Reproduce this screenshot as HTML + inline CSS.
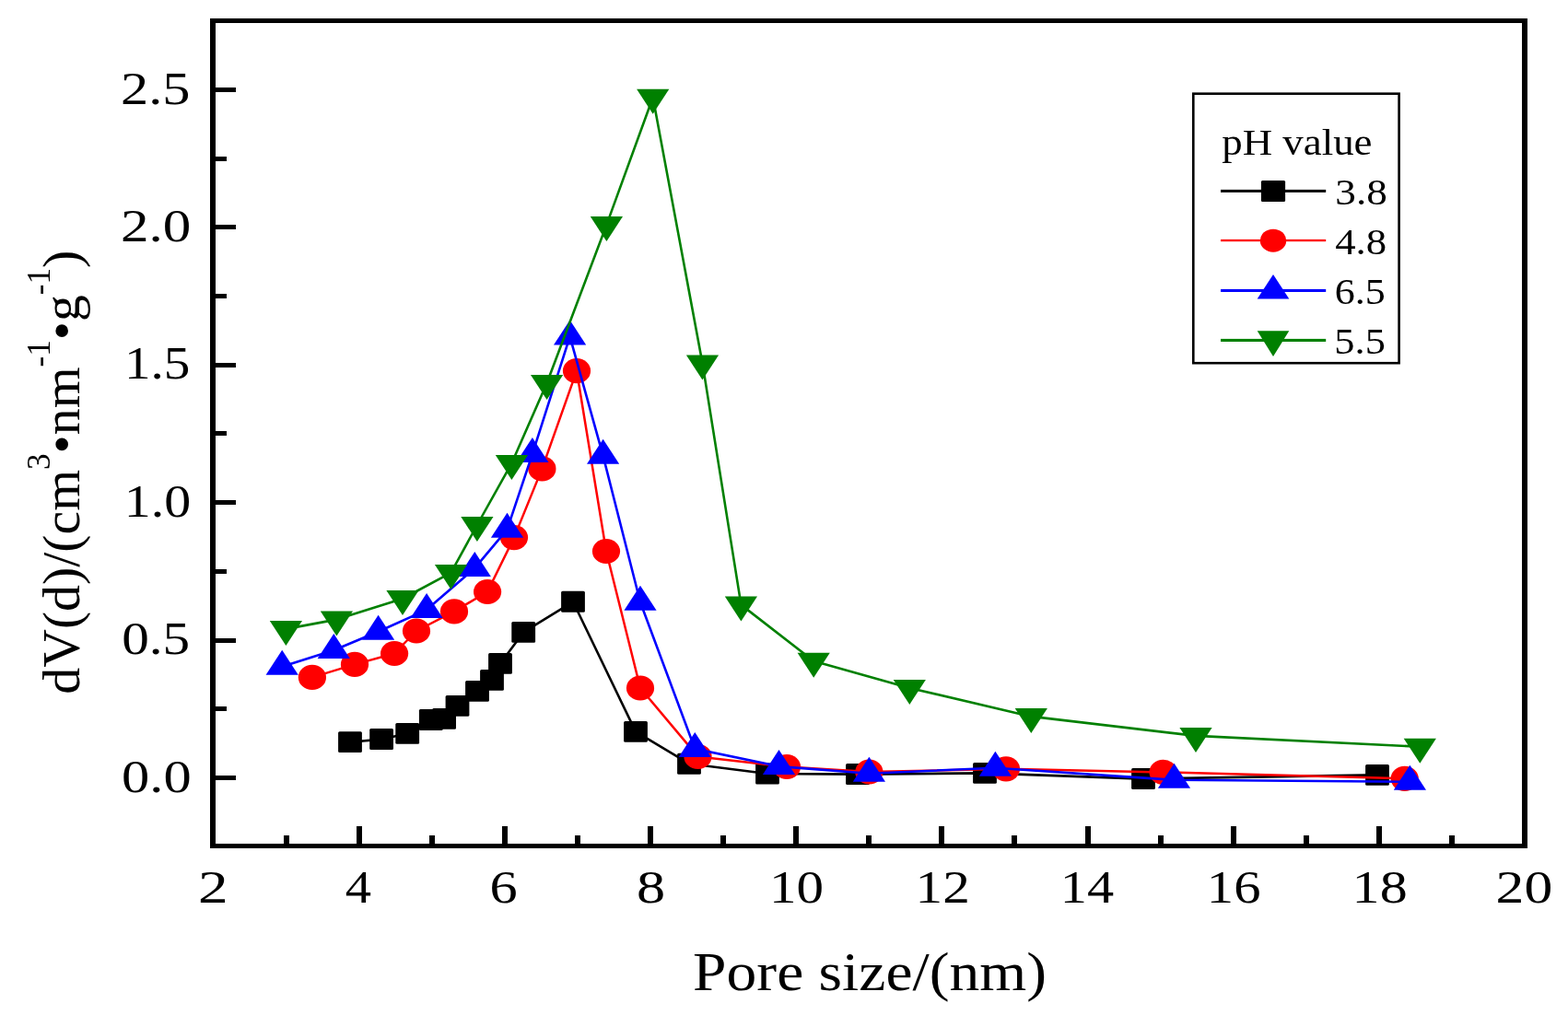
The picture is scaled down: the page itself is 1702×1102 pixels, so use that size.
<!DOCTYPE html>
<html><head><meta charset="utf-8"><title>Pore size distribution</title>
<style>
html,body{margin:0;padding:0;background:#fff;}
body{width:1702px;height:1102px;overflow:hidden;}
svg{display:block;}
text{font-family:"Liberation Serif","Times New Roman",serif;fill:#000;}
</style></head><body>
<svg width="1702" height="1102" viewBox="0 0 1702 1102">
<rect width="1702" height="1102" fill="#fff"/>
<g fill="#000"><rect x="228" y="20" width="6" height="901"/>
<rect x="1652" y="20" width="6" height="901"/>
<rect x="228" y="20" width="1430" height="5"/>
<rect x="228" y="916" width="1430" height="5"/>
<rect x="234" y="842" width="22" height="5"/>
<rect x="234" y="767" width="12" height="5"/>
<rect x="234" y="693" width="22" height="5"/>
<rect x="234" y="618" width="12" height="5"/>
<rect x="234" y="543" width="22" height="5"/>
<rect x="234" y="468" width="12" height="5"/>
<rect x="234" y="394" width="22" height="5"/>
<rect x="234" y="319" width="12" height="5"/>
<rect x="234" y="244" width="22" height="5"/>
<rect x="234" y="170" width="12" height="5"/>
<rect x="234" y="95" width="22" height="5"/>
<rect x="308" y="907" width="6" height="9"/>
<rect x="387" y="897" width="6" height="19"/>
<rect x="466" y="907" width="6" height="9"/>
<rect x="545" y="897" width="6" height="19"/>
<rect x="624" y="907" width="6" height="9"/>
<rect x="703" y="897" width="6" height="19"/>
<rect x="782" y="907" width="6" height="9"/>
<rect x="861" y="897" width="6" height="19"/>
<rect x="940" y="907" width="6" height="9"/>
<rect x="1019" y="897" width="6" height="19"/>
<rect x="1098" y="907" width="6" height="9"/>
<rect x="1178" y="897" width="6" height="19"/>
<rect x="1257" y="907" width="6" height="9"/>
<rect x="1336" y="897" width="6" height="19"/>
<rect x="1415" y="907" width="6" height="9"/>
<rect x="1494" y="897" width="6" height="19"/>
<rect x="1573" y="907" width="6" height="9"/></g>
<g fill="#000000" stroke="none"><polyline fill="none" stroke="#000000" stroke-width="2.6" stroke-linejoin="round" points="380.0,805.7 414.1,802.6 442.2,796.4 467.8,781.5 482.1,780.4 496.5,766.4 518.0,750.4 534.0,738.4 543.0,720.4 568.2,686.4 622.0,653.3 690.0,794.4 748.0,829.2 833.0,840.0 931.0,840.6 1069.0,839.4 1241.0,845.6 1495.0,841.4"/><rect x="367.1" y="794.2" width="25.8" height="22.9" rx="1.5"/><rect x="401.2" y="791.1" width="25.8" height="22.9" rx="1.5"/><rect x="429.3" y="784.9" width="25.8" height="22.9" rx="1.5"/><rect x="454.9" y="770.0" width="25.8" height="22.9" rx="1.5"/><rect x="469.2" y="768.9" width="25.8" height="22.9" rx="1.5"/><rect x="483.6" y="754.9" width="25.8" height="22.9" rx="1.5"/><rect x="505.1" y="738.9" width="25.8" height="22.9" rx="1.5"/><rect x="521.1" y="726.9" width="25.8" height="22.9" rx="1.5"/><rect x="530.1" y="708.9" width="25.8" height="22.9" rx="1.5"/><rect x="555.3" y="674.9" width="25.8" height="22.9" rx="1.5"/><rect x="609.1" y="641.8" width="25.8" height="22.9" rx="1.5"/><rect x="677.1" y="782.9" width="25.8" height="22.9" rx="1.5"/><rect x="735.1" y="817.8" width="25.8" height="22.9" rx="1.5"/><rect x="820.1" y="828.5" width="25.8" height="22.9" rx="1.5"/><rect x="918.1" y="829.1" width="25.8" height="22.9" rx="1.5"/><rect x="1056.1" y="827.9" width="25.8" height="22.9" rx="1.5"/><rect x="1228.1" y="834.1" width="25.8" height="22.9" rx="1.5"/><rect x="1482.1" y="829.9" width="25.8" height="22.9" rx="1.5"/></g>
<g fill="#ff0000" stroke="none"><polyline fill="none" stroke="#ff0000" stroke-width="2.5" stroke-linejoin="round" points="338.9,735.4 385.0,721.4 428.1,709.5 452.0,685.0 493.0,663.9 529.1,642.5 558.0,583.6 588.4,508.9 626.0,402.7 658.0,598.5 695.0,747.0 757.5,821.4 854.0,832.5 943.4,838.0 1092.0,834.8 1262.6,838.4 1524.7,845.3"/><ellipse cx="338.9" cy="735.4" rx="15.1" ry="13.6"/><ellipse cx="385.0" cy="721.4" rx="15.1" ry="13.6"/><ellipse cx="428.1" cy="709.5" rx="15.1" ry="13.6"/><ellipse cx="452.0" cy="685.0" rx="15.1" ry="13.6"/><ellipse cx="493.0" cy="663.9" rx="15.1" ry="13.6"/><ellipse cx="529.1" cy="642.5" rx="15.1" ry="13.6"/><ellipse cx="558.0" cy="583.6" rx="15.1" ry="13.6"/><ellipse cx="588.4" cy="508.9" rx="15.1" ry="13.6"/><ellipse cx="626.0" cy="402.7" rx="15.1" ry="13.6"/><ellipse cx="658.0" cy="598.5" rx="15.1" ry="13.6"/><ellipse cx="695.0" cy="747.0" rx="15.1" ry="13.6"/><ellipse cx="757.5" cy="821.4" rx="15.1" ry="13.6"/><ellipse cx="854.0" cy="832.5" rx="15.1" ry="13.6"/><ellipse cx="943.4" cy="838.0" rx="15.1" ry="13.6"/><ellipse cx="1092.0" cy="834.8" rx="15.1" ry="13.6"/><ellipse cx="1262.6" cy="838.4" rx="15.1" ry="13.6"/><ellipse cx="1524.7" cy="845.3" rx="15.1" ry="13.6"/></g>
<g fill="#0000ff" stroke="none"><polyline fill="none" stroke="#0000ff" stroke-width="2.6" stroke-linejoin="round" points="306.2,723.8 362.3,706.0 410.6,685.7 463.1,662.1 515.3,616.9 550.5,574.8 577.9,492.9 618.6,365.4 654.6,494.8 695.0,653.8 754.3,813.0 845.5,832.1 943.4,839.7 1080.4,833.8 1274.5,846.8 1530.4,848.8"/><polygon points="306.2,705.8 323.8,732.8 288.6,732.8"/><polygon points="362.3,688.0 379.9,715.0 344.7,715.0"/><polygon points="410.6,667.7 428.2,694.7 393.0,694.7"/><polygon points="463.1,644.1 480.7,671.1 445.5,671.1"/><polygon points="515.3,598.9 532.9,625.9 497.7,625.9"/><polygon points="550.5,556.8 568.1,583.8 532.9,583.8"/><polygon points="577.9,474.9 595.5,501.9 560.3,501.9"/><polygon points="618.6,347.4 636.2,374.4 601.0,374.4"/><polygon points="654.6,476.8 672.2,503.8 637.0,503.8"/><polygon points="695.0,635.8 712.6,662.8 677.4,662.8"/><polygon points="754.3,795.0 771.9,822.0 736.7,822.0"/><polygon points="845.5,814.1 863.1,841.1 827.9,841.1"/><polygon points="943.4,821.7 961.0,848.7 925.8,848.7"/><polygon points="1080.4,815.8 1098.0,842.8 1062.8,842.8"/><polygon points="1274.5,828.8 1292.1,855.8 1256.9,855.8"/><polygon points="1530.4,830.8 1548.0,857.8 1512.8,857.8"/></g>
<g fill="#008000" stroke="none"><polyline fill="none" stroke="#008000" stroke-width="2.6" stroke-linejoin="round" points="310.4,682.9 365.4,672.6 437.0,650.0 489.5,621.9 517.9,570.0 555.4,503.0 593.6,416.0 658.4,244.1 708.7,105.7 762.5,394.5 804.4,656.6 883.2,717.8 987.3,746.9 1119.3,777.9 1298.0,798.9 1541.3,810.7"/><polygon points="292.8,673.9 328.0,673.9 310.4,700.9"/><polygon points="347.8,663.6 383.0,663.6 365.4,690.6"/><polygon points="419.4,641.0 454.6,641.0 437.0,668.0"/><polygon points="471.9,612.9 507.1,612.9 489.5,639.9"/><polygon points="500.3,561.0 535.5,561.0 517.9,588.0"/><polygon points="537.8,494.0 573.0,494.0 555.4,521.0"/><polygon points="576.0,407.0 611.2,407.0 593.6,434.0"/><polygon points="640.8,235.1 676.0,235.1 658.4,262.1"/><polygon points="691.1,96.7 726.3,96.7 708.7,123.7"/><polygon points="744.9,385.5 780.1,385.5 762.5,412.5"/><polygon points="786.8,647.6 822.0,647.6 804.4,674.6"/><polygon points="865.6,708.8 900.8,708.8 883.2,735.8"/><polygon points="969.7,737.9 1004.9,737.9 987.3,764.9"/><polygon points="1101.7,768.9 1136.9,768.9 1119.3,795.9"/><polygon points="1280.4,789.9 1315.6,789.9 1298.0,816.9"/><polygon points="1523.7,801.7 1558.9,801.7 1541.3,828.7"/></g>
<g><rect x="1295.3" y="101.7" width="223.3" height="292.5" fill="none" stroke="#000" stroke-width="2.6"/>
<rect x="1325.0" y="205.9" width="114.2" height="3.0" fill="#000000"/>
<rect x="1368.9" y="196.1" width="26.2" height="22.9" rx="1.5" fill="#000000"/>
<rect x="1325.0" y="259.9" width="114.2" height="2.3" fill="#ff0000"/>
<ellipse cx="1382.0" cy="261.2" rx="14.2" ry="12.5" fill="#ff0000"/>
<rect x="1325.0" y="313.9" width="114.2" height="3.1" fill="#0000ff"/>
<polygon points="1382.0,298.1 1399.3,324.6 1364.7,324.6" fill="#0000ff"/>
<rect x="1325.0" y="367.9" width="114.2" height="3.1" fill="#008000"/>
<polygon points="1364.7,359.2 1399.3,359.2 1382.0,386.9" fill="#008000"/></g>
<g><text transform="translate(132.10 859.60) scale(1.1907 1)" font-size="50.80">0.0</text>
<text transform="translate(132.14 710.20) scale(1.1665 1)" font-size="50.80">0.5</text>
<text transform="translate(134.80 560.80) scale(1.1418 1)" font-size="50.80">1.0</text>
<text transform="translate(134.88 411.40) scale(1.1253 1)" font-size="50.80">1.5</text>
<text transform="translate(131.01 262.00) scale(1.2034 1)" font-size="50.80">2.0</text>
<text transform="translate(131.05 112.60) scale(1.1875 1)" font-size="50.80">2.5</text>
<text transform="translate(215.03 980.00) scale(1.2715 1)" font-size="51.40">2</text>
<text transform="translate(374.69 980.00) scale(1.1007 1)" font-size="51.40">4</text>
<text transform="translate(531.61 980.00) scale(1.1748 1)" font-size="51.40">6</text>
<text transform="translate(690.93 980.00) scale(1.2119 1)" font-size="51.40">8</text>
<text transform="translate(835.00 980.00) scale(1.1508 1)" font-size="51.40">10</text>
<text transform="translate(993.59 980.00) scale(1.1533 1)" font-size="51.40">12</text>
<text transform="translate(1150.77 980.00) scale(1.1350 1)" font-size="51.40">14</text>
<text transform="translate(1309.85 980.00) scale(1.1400 1)" font-size="51.40">16</text>
<text transform="translate(1467.62 980.00) scale(1.1686 1)" font-size="51.40">18</text>
<text transform="translate(1623.59 980.00) scale(1.1996 1)" font-size="51.40">20</text>
<text transform="translate(752.11 1074.60) scale(1.1202 1)" font-size="58.50">Pore size/(nm)</text>
<text transform="translate(1326.28 167.80) scale(1.1028 1)" font-size="40.70">pH value</text>
<text transform="translate(1449.33 221.80) scale(1.1461 1)" font-size="39.50">3.8</text>
<text transform="translate(1449.23 275.70) scale(1.1338 1)" font-size="39.50">4.8</text>
<text transform="translate(1448.81 329.60) scale(1.1163 1)" font-size="39.50">6.5</text>
<text transform="translate(1448.31 383.60) scale(1.1266 1)" font-size="39.50">5.5</text>
<text transform="translate(85.6 753.7) scale(1.000 1) rotate(-90)" font-size="57.75">dV(d)/(cm<tspan font-size="35" dy="-32">3</tspan><tspan dy="32">•nm</tspan><tspan font-size="35" dy="-32">-1</tspan><tspan dy="32">•g</tspan><tspan font-size="35" dy="-32">-1</tspan><tspan dy="32">)</tspan></text></g>
</svg>
</body></html>
